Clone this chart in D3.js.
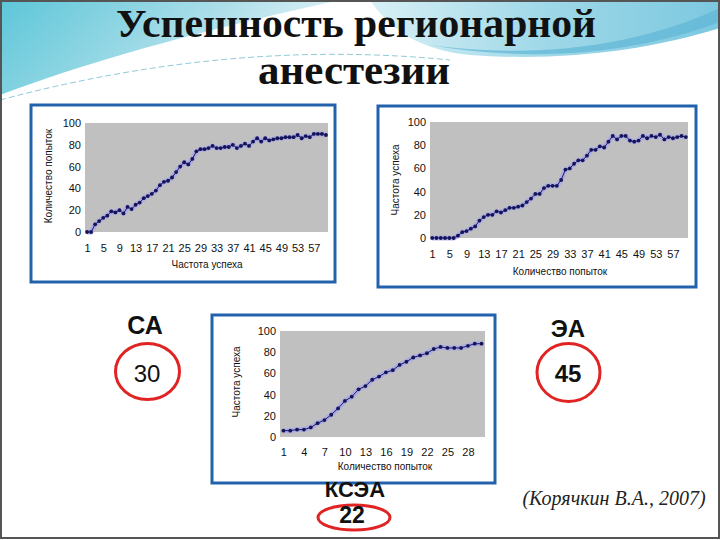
<!DOCTYPE html>
<html>
<head>
<meta charset="utf-8">
<script src="https://cdn.jsdelivr.net/npm/d3@7"></script>
<style>
  html, body { margin: 0; padding: 0; background: #fff; }
  svg { display: block; }
</style>
</head>
<body>
<svg id="slide" width="720" height="540"></svg>
<script>
// Chart data
const caCategories = d3.range(1, 61);
const caValues = [0, 0, 7, 10, 13, 15, 19, 18, 20, 17,
  23, 21, 25, 27, 31, 33, 35, 38, 43, 46,
  47, 50, 55, 60, 64, 62, 67, 74, 76, 76,
  77, 79, 77, 77, 78, 78, 80, 77, 79, 81,
  79, 83, 86, 83, 86, 84, 85, 86, 86, 87,
  87, 87, 89, 86, 88, 87, 90, 90, 90, 89];

const eaCategories = d3.range(1, 61);
const eaValues = [0, 0, 0, 0, 0, 0, 2, 5, 6, 8,
  10, 15, 18, 20, 20, 23, 22, 24, 26, 26,
  27, 28, 31, 34, 38, 38, 43, 45, 45, 45,
  50, 59, 60, 64, 67, 67, 71, 76, 76, 79,
  78, 83, 88, 85, 88, 88, 84, 83, 84, 88,
  86, 88, 87, 89, 85, 87, 86, 87, 88, 87];

const kseaCategories = d3.range(1, 31);
const kseaValues = [6, 6, 7, 7, 9, 13, 16, 21, 27, 34,
  38, 45, 48, 54, 57, 61, 63, 68, 71, 75,
  77, 79, 83, 85, 84, 84, 84, 86, 88, 88];

const yTicks = [0, 20, 40, 60, 80, 100];
const tickLabels60 = [1, 5, 9, 13, 17, 21, 25, 29, 33, 37, 41, 45, 49, 53, 57];
const tickLabels30 = [1, 4, 7, 10, 13, 16, 19, 22, 25, 28];

const titleLines = ["Успешность регионарной", "анестезии"];
const badges = [
  {name: "СА", value: "30"},
  {name: "ЭА", value: "45"},
  {name: "КСЭА", value: "22"}
];
const citation = "(Корячкин В.А., 2007)";

const svg = d3.select("#slide");

// ---- background swoosh ----
const defs = svg.append("defs");
const g1 = defs.append("linearGradient").attr("id", "leftBlue")
  .attr("x1", 0).attr("y1", 0).attr("x2", 1).attr("y2", 0.3);
g1.append("stop").attr("offset", 0).attr("stop-color", "#5cc6d8");
g1.append("stop").attr("offset", 0.6).attr("stop-color", "#a9dde9");
g1.append("stop").attr("offset", 1).attr("stop-color", "#e4f4f8");
const g2 = defs.append("linearGradient").attr("id", "rightBlue")
  .attr("x1", 0).attr("y1", 0).attr("x2", 1).attr("y2", 0);
g2.append("stop").attr("offset", 0).attr("stop-color", "#d8f0f6");
g2.append("stop").attr("offset", 0.5).attr("stop-color", "#9fd8e8");
g2.append("stop").attr("offset", 1).attr("stop-color", "#7cc8e0");

const bg = svg.append("g");
bg.append("path")
  .attr("d", "M0,0 H340 C250,20 120,50 0,95 Z")
  .attr("fill", "url(#leftBlue)");
bg.append("path")
  .attr("d", "M370,0 H720 V28 C650,50 560,62 470,55 C420,50 390,30 370,0 Z")
  .attr("fill", "url(#rightBlue)");
bg.append("path")
  .attr("d", "M430,45 C540,60 640,45 720,8 V22 C640,52 540,64 430,45 Z")
  .attr("fill", "#5fb6d6").attr("opacity", 0.7);
bg.append("path")
  .attr("d", "M0,100 C150,60 300,45 450,60")
  .attr("fill", "none").attr("stroke", "#8fcbd8").attr("stroke-width", 1)
  .attr("stroke-dasharray", "6,3");
bg.append("rect").attr("x", 1).attr("y", 1).attr("width", 718).attr("height", 537)
  .attr("fill", "none").attr("stroke", "#555").attr("stroke-width", 2);

// ---- title ----
svg.append("text")
  .attr("x", 356).attr("y", 37)
  .attr("text-anchor", "middle")
  .attr("font-family", "Liberation Serif, Times New Roman, serif")
  .attr("font-weight", "bold").attr("font-size", 40)
  .attr("textLength", 480).attr("lengthAdjust", "spacingAndGlyphs")
  .attr("fill", "#111")
  .text(titleLines[0]);
svg.append("text")
  .attr("x", 354).attr("y", 84)
  .attr("text-anchor", "middle")
  .attr("font-family", "Liberation Serif, Times New Roman, serif")
  .attr("font-weight", "bold").attr("font-size", 42)
  .attr("textLength", 192).attr("lengthAdjust", "spacingAndGlyphs")
  .attr("fill", "#111")
  .text(titleLines[1]);

// ---- charts ----
function drawChart(cfg) {
  const g = svg.append("g");
  g.append("rect")
    .attr("x", cfg.frame[0]).attr("y", cfg.frame[1])
    .attr("width", cfg.frame[2] - cfg.frame[0]).attr("height", cfg.frame[3] - cfg.frame[1])
    .attr("fill", "#fff").attr("stroke", "#2262ad").attr("stroke-width", 3);

  const x = d3.scalePoint().domain(cfg.categories)
    .range([cfg.plot[0], cfg.plot[2]]).padding(0.5);
  const y = d3.scaleLinear().domain([0, 100]).range([cfg.plot[3], cfg.plot[1]]);

  g.append("rect")
    .attr("x", cfg.plot[0]).attr("y", cfg.plot[1])
    .attr("width", cfg.plot[2] - cfg.plot[0]).attr("height", cfg.plot[3] - cfg.plot[1])
    .attr("fill", "#c0c0c0");

  const yAxis = g.append("g")
    .attr("transform", "translate(" + (cfg.plot[0] - 4) + ",0)")
    .call(d3.axisLeft(y).tickValues(yTicks).tickSize(0).tickPadding(0));
  yAxis.select(".domain").remove();

  const xAxis = g.append("g")
    .attr("transform", "translate(0," + cfg.plot[3] + ")")
    .call(d3.axisBottom(x).tickValues(cfg.tickLabels).tickSize(0).tickPadding(cfg.xPad));
  xAxis.select(".domain").remove();

  g.selectAll(".tick text")
    .attr("font-family", "Liberation Sans, Arial, sans-serif")
    .attr("font-size", 11).attr("fill", "#111");

  g.append("text")
    .attr("x", cfg.xTitle[0]).attr("y", cfg.xTitle[1])
    .attr("text-anchor", "middle")
    .attr("font-family", "Liberation Sans, Arial, sans-serif")
    .attr("font-size", 10).attr("fill", "#111")
    .text(cfg.xLabel);
  g.append("text")
    .attr("transform", "translate(" + cfg.yTitle[0] + "," + cfg.yTitle[1] + ") rotate(-90)")
    .attr("text-anchor", "middle").attr("dy", "0.35em")
    .attr("font-family", "Liberation Sans, Arial, sans-serif")
    .attr("font-size", 10).attr("fill", "#111")
    .text(cfg.yLabel);

  const line = d3.line()
    .x((d, i) => x(cfg.categories[i]))
    .y(d => y(d));

  // soft halo under the series line
  g.append("path").datum(cfg.values)
    .attr("d", line).attr("fill", "none")
    .attr("stroke", "#a9a6e6").attr("stroke-width", 5)
    .attr("stroke-linejoin", "round").attr("opacity", 0.8);
  g.append("path").datum(cfg.values)
    .attr("d", line).attr("fill", "none")
    .attr("stroke", "#1a1a6e").attr("stroke-width", 1);
  g.selectAll(".pt").data(cfg.values).enter()
    .append("circle")
    .attr("cx", (d, i) => x(cfg.categories[i]))
    .attr("cy", d => y(d))
    .attr("r", 1.9)
    .attr("fill", "#14145a");
}

drawChart({
  categories: caCategories, values: caValues, tickLabels: tickLabels60,
  frame: [31, 105, 335, 282], plot: [85, 123, 328, 232], xPad: 12,
  xLabel: "Частота успеха", yLabel: "Количество попыток",
  xTitle: [207, 268], yTitle: [48, 176]
});

drawChart({
  categories: eaCategories, values: eaValues, tickLabels: tickLabels60,
  frame: [378, 106, 696, 287], plot: [430, 122, 688, 238], xPad: 12,
  xLabel: "Количество попыток", yLabel: "Частота успеха",
  xTitle: [560, 275], yTitle: [395, 180]
});

drawChart({
  categories: kseaCategories, values: kseaValues, tickLabels: tickLabels30,
  frame: [212, 315, 495, 483], plot: [280, 331, 485, 437], xPad: 11,
  xLabel: "Количество попыток", yLabel: "Частота успеха",
  xTitle: [385, 470], yTitle: [236, 382]
});

// ---- badges ----
const badgePos = [
  {tx: 145, ty: 334, fs: 25, vx: 147, vy: 382, vs: 24, vw: "normal", cx: 147.5, cy: 371.5, rx: 32, ry: 28},
  {tx: 568, ty: 337, fs: 24, vx: 568, vy: 382, vs: 24, vw: "bold", cx: 568.5, cy: 372.5, rx: 31.5, ry: 29},
  {tx: 355, ty: 497, fs: 22, vx: 352, vy: 523, vs: 23, vw: "bold", cx: 354, cy: 517.5, rx: 36, ry: 12.5}
];
badges.forEach((b, i) => {
  const p = badgePos[i];
  svg.append("text")
    .attr("x", p.tx).attr("y", p.ty).attr("text-anchor", "middle")
    .attr("font-family", "Liberation Sans, Arial, sans-serif")
    .attr("font-weight", "bold").attr("font-size", p.fs).attr("fill", "#111")
    .text(b.name);
  svg.append("ellipse")
    .attr("cx", p.cx).attr("cy", p.cy).attr("rx", p.rx).attr("ry", p.ry)
    .attr("fill", "none").attr("stroke", "#e02424").attr("stroke-width", 3);
  svg.append("text")
    .attr("x", p.vx).attr("y", p.vy).attr("text-anchor", "middle")
    .attr("font-family", "Liberation Sans, Arial, sans-serif")
    .attr("font-weight", p.vw).attr("font-size", p.vs).attr("fill", "#111")
    .text(b.value);
});

svg.append("text")
  .attr("x", 614).attr("y", 505).attr("text-anchor", "middle")
  .attr("font-family", "Liberation Serif, Times New Roman, serif")
  .attr("font-style", "italic").attr("font-size", 20).attr("fill", "#222")
  .text(citation);
</script>
</body>
</html>
